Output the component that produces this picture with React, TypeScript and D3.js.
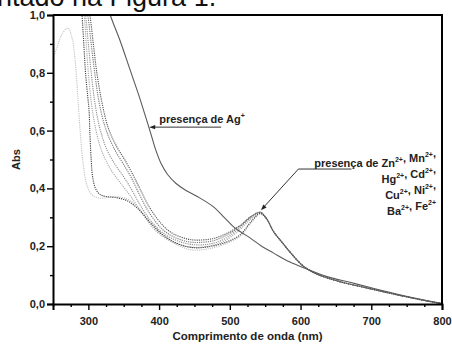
import React, { useEffect, useRef } from 'react';
import * as d3 from 'd3';

// wavelength (nm), absorbance
const agSeries: [number, number][] = [
  [322, 1.08], [331, 1.0], [345, 0.91], [359, 0.81], [373, 0.71], [380, 0.655], [387, 0.6],
  [395, 0.535], [403, 0.485], [412, 0.448], [424, 0.417], [438, 0.393], [454, 0.372],
  [477, 0.336], [492, 0.3], [505, 0.268], [515, 0.25], [529, 0.228], [545, 0.2],
  [562, 0.176], [585, 0.145], [610, 0.12], [640, 0.093], [670, 0.075], [700, 0.056],
  [740, 0.032], [780, 0.011], [800, 0.002],
];

const peakTail: [number, number][] = [
  [552, 0.295], [562, 0.25], [575, 0.21], [586, 0.177], [604, 0.131], [620, 0.107],
  [650, 0.081], [700, 0.052], [740, 0.03], [780, 0.01], [800, 0.001],
];

const metalA: [number, number][] = [
  [297, 1.05], [302, 1.0], [307, 0.9], [312, 0.8], [319, 0.7], [328, 0.61], [340, 0.545],
  [352, 0.497], [362, 0.452], [373, 0.398], [387, 0.332], [406, 0.27], [420, 0.243],
  [440, 0.225], [454, 0.221], [477, 0.227], [496, 0.245], [515, 0.273], [530, 0.303], [543, 0.318],
];

const metalB: [number, number][] = [
  [294, 1.05], [299, 1.0], [304, 0.9], [309, 0.8], [315, 0.7], [324, 0.61], [336, 0.54],
  [348, 0.49], [359, 0.445], [370, 0.39], [385, 0.32], [404, 0.26], [420, 0.233],
  [440, 0.216], [456, 0.213], [478, 0.22], [497, 0.24], [515, 0.27], [530, 0.302], [543, 0.317],
];

const metalC: [number, number][] = [
  [292, 1.05], [296, 1.0], [300, 0.9], [304, 0.8], [309, 0.7], [316, 0.61], [326, 0.535],
  [338, 0.482], [350, 0.44], [362, 0.392], [375, 0.335], [392, 0.277], [410, 0.238],
  [430, 0.215], [450, 0.205], [470, 0.207], [490, 0.222], [510, 0.255], [528, 0.295], [543, 0.316],
];

const metalD: [number, number][] = [
  [290, 1.05], [294, 1.0], [297, 0.9], [300, 0.8], [304, 0.7], [310, 0.61], [318, 0.535],
  [330, 0.472], [345, 0.42], [360, 0.372], [375, 0.318], [392, 0.262], [410, 0.226],
  [430, 0.205], [448, 0.196], [470, 0.2], [490, 0.215], [510, 0.248], [528, 0.29], [543, 0.315],
];

const metalE: [number, number][] = [
  [250, 0.85], [256, 0.89], [263, 0.935], [271, 0.955], [277, 0.92], [281, 0.85],
  [285, 0.72], [289, 0.58], [293, 0.48], [298, 0.41], [305, 0.378], [317, 0.366],
  [330, 0.37], [345, 0.37], [358, 0.36], [370, 0.335], [385, 0.29], [402, 0.245],
  [420, 0.212], [444, 0.188], [468, 0.19], [496, 0.21], [515, 0.235], [530, 0.28], [543, 0.312],
];

const metalF: [number, number][] = [
  [289, 1.05], [291, 1.0], [294, 0.88], [296, 0.8], [299, 0.72], [301, 0.67], [302, 0.6],
  [304, 0.5], [306, 0.44], [310, 0.4], [316, 0.38], [325, 0.372], [340, 0.368],
  [356, 0.356], [372, 0.325], [388, 0.28], [405, 0.24], [425, 0.21], [448, 0.195],
  [470, 0.198], [496, 0.215], [515, 0.24], [530, 0.285], [543, 0.313],
];

const metalStyles = [
  { data: metalE, color: '#c4c4c4' },
  { data: metalD, color: '#a8a8a8' },
  { data: metalC, color: '#909090' },
  { data: metalF, color: '#444' },
  { data: metalB, color: '#777' },
  { data: metalA, color: '#555' },
];

const xTicks = [300, 400, 500, 600, 700, 800];
const yTicks = [0, 0.2, 0.4, 0.6, 0.8, 1.0];

const agArrow = { tip: [386, 0.612], len: 72 };
const znArrow = { tip: [544, 0.324], elbow: [597, 0.467], end: [672, 0.467] };
const znLines = [
  [['presença de Zn', '2+'], [', Mn', '2+'], [',', '']],
  [['Hg', '2+'], [', Cd', '2+'], [',', '']],
  [['Cu', '2+'], [', Ni', '2+'], [',', '']],
  [['Ba', '2+'], [', Fe', '2+']],
];

const App = () => {
  const ref = useRef<SVGSVGElement>(null);

  useEffect(() => {
    const width = 452;
    const height = 345;
    const svg = d3.select(ref.current).attr('width', width).attr('height', height);
    svg.selectAll('*').remove();

    const x = d3.scaleLinear().domain([250, 800]).range([53, 442]);
    const y = d3.scaleLinear().domain([0, 1]).range([304, 15]);
    const font = 'Arial, "Liberation Sans", sans-serif';

    // cropped caption from the source document
    svg.append('text')
      .attr('x', -3).attr('y', 6)
      .attr('font-family', font).attr('font-size', 27).attr('fill', '#111')
      .text('ntado na Figura 1.');

    svg.append('clipPath').attr('id', 'plot-clip')
      .append('rect').attr('x', 53).attr('y', 15).attr('width', 389).attr('height', 289);

    const line = d3.line<[number, number]>()
      .x(d => x(d[0])).y(d => y(d[1]))
      .curve(d3.curveCatmullRom.alpha(0.5));

    const g = svg.append('g').attr('clip-path', 'url(#plot-clip)');

    metalStyles.forEach(s => {
      g.append('path')
        .attr('d', line(s.data.concat(peakTail)))
        .attr('fill', 'none')
        .attr('stroke', s.color)
        .attr('stroke-width', 1.1)
        .attr('stroke-dasharray', '1.2 1');
    });

    g.append('path')
      .attr('d', line(agSeries))
      .attr('fill', 'none')
      .attr('stroke', '#5a5a5a')
      .attr('stroke-width', 1.1);

    // axes
    const xAxis = svg.append('g').attr('transform', `translate(0,${y(0)})`)
      .call(d3.axisBottom(x).tickValues(xTicks).tickSize(6).tickFormat(d => `${d}`));
    svg.append('g').attr('transform', `translate(0,${y(0)})`)
      .call(d3.axisBottom(x).tickValues(d3.range(250, 801, 25).filter(v => v % 100 !== 0)).tickSize(3).tickFormat(() => ''))
      .call(a => a.select('.domain').remove());
    const yAxis = svg.append('g').attr('transform', `translate(${x(250)},0)`)
      .call(d3.axisLeft(y).tickValues(yTicks).tickSize(6).tickFormat(d => d3.format('.1f')(d as number).replace('.', ',')));
    svg.append('g').attr('transform', `translate(${x(250)},0)`)
      .call(d3.axisLeft(y).tickValues([0.1, 0.3, 0.5, 0.7, 0.9]).tickSize(3).tickFormat(() => ''))
      .call(a => a.select('.domain').remove());

    [xAxis, yAxis].forEach(a => {
      a.select('.domain').attr('stroke-width', 2);
      a.selectAll('text').attr('font-family', font).attr('font-size', 11).attr('font-weight', 'bold').attr('fill', '#222');
    });
    svg.selectAll('.tick line').attr('stroke-width', 1.4);
    xAxis.selectAll('text').attr('dy', '1.05em');
    yAxis.selectAll('text').attr('x', -8);

    // top and right frame
    svg.append('path')
      .attr('d', `M${x(250)},${y(1)}H${x(800)}V${y(0)}`)
      .attr('fill', 'none').attr('stroke', '#000').attr('stroke-width', 2);

    svg.append('text')
      .attr('x', (x(250) + x(800)) / 2).attr('y', 340)
      .attr('text-anchor', 'middle')
      .attr('font-family', font).attr('font-size', 11.5).attr('font-weight', 'bold').attr('fill', '#222')
      .text('Comprimento de onda (nm)');

    svg.append('text')
      .attr('transform', `translate(20,${(y(0) + y(1)) / 2}) rotate(-90)`)
      .attr('text-anchor', 'middle')
      .attr('font-family', font).attr('font-size', 11).attr('font-weight', 'bold').attr('fill', '#222')
      .text('Abs');

    // Ag annotation
    const ax = x(agArrow.tip[0]);
    const ay = y(agArrow.tip[1]);
    svg.append('line')
      .attr('x1', ax + 4).attr('y1', ay).attr('x2', ax + agArrow.len).attr('y2', ay)
      .attr('stroke', '#333').attr('stroke-width', 1);
    svg.append('path')
      .attr('d', `M${ax},${ay}l6,-2.2v4.4z`).attr('fill', '#222');
    const agText = svg.append('text')
      .attr('x', ax + 10).attr('y', ay - 4)
      .attr('font-family', font).attr('font-size', 11).attr('font-weight', 'bold').attr('fill', '#222');
    agText.append('tspan').text('presença de Ag');
    agText.append('tspan').attr('dy', -5).attr('font-size', 7).text('+');

    // Zn etc. annotation
    const tx = x(znArrow.tip[0]);
    const ty = y(znArrow.tip[1]);
    const ex = x(znArrow.elbow[0]);
    const ey = y(znArrow.elbow[1]);
    svg.append('path')
      .attr('d', `M${x(znArrow.end[0])},${ey}H${ex}L${tx + 3},${ty - 3.5}`)
      .attr('fill', 'none').attr('stroke', '#333').attr('stroke-width', 1);
    const ang = Math.atan2(ey - ty, ex - tx);
    const hl = 6;
    const hw = 2.2;
    const bx = tx + hl * Math.cos(ang);
    const by = ty + hl * Math.sin(ang);
    svg.append('path')
      .attr('d', `M${tx},${ty}L${bx - hw * Math.sin(ang)},${by + hw * Math.cos(ang)}L${bx + hw * Math.sin(ang)},${by - hw * Math.cos(ang)}z`)
      .attr('fill', '#222');

    znLines.forEach((parts, i) => {
      const t = svg.append('text')
        .attr('x', 436).attr('y', ey - 2 + i * 16)
        .attr('text-anchor', 'end')
        .attr('font-family', font).attr('font-size', 11).attr('font-weight', 'bold').attr('fill', '#222');
      parts.forEach(([base, sup]) => {
        t.append('tspan').text(base);
        if (sup) {
          t.append('tspan').attr('dy', -5).attr('font-size', 7).text(sup);
          t.append('tspan').attr('dy', 5).text('');
        }
      });
    });
  }, []);

  return <svg ref={ref} style={{ position: 'absolute', left: 0, top: 0, display: 'block' }} />;
};

export default App;
